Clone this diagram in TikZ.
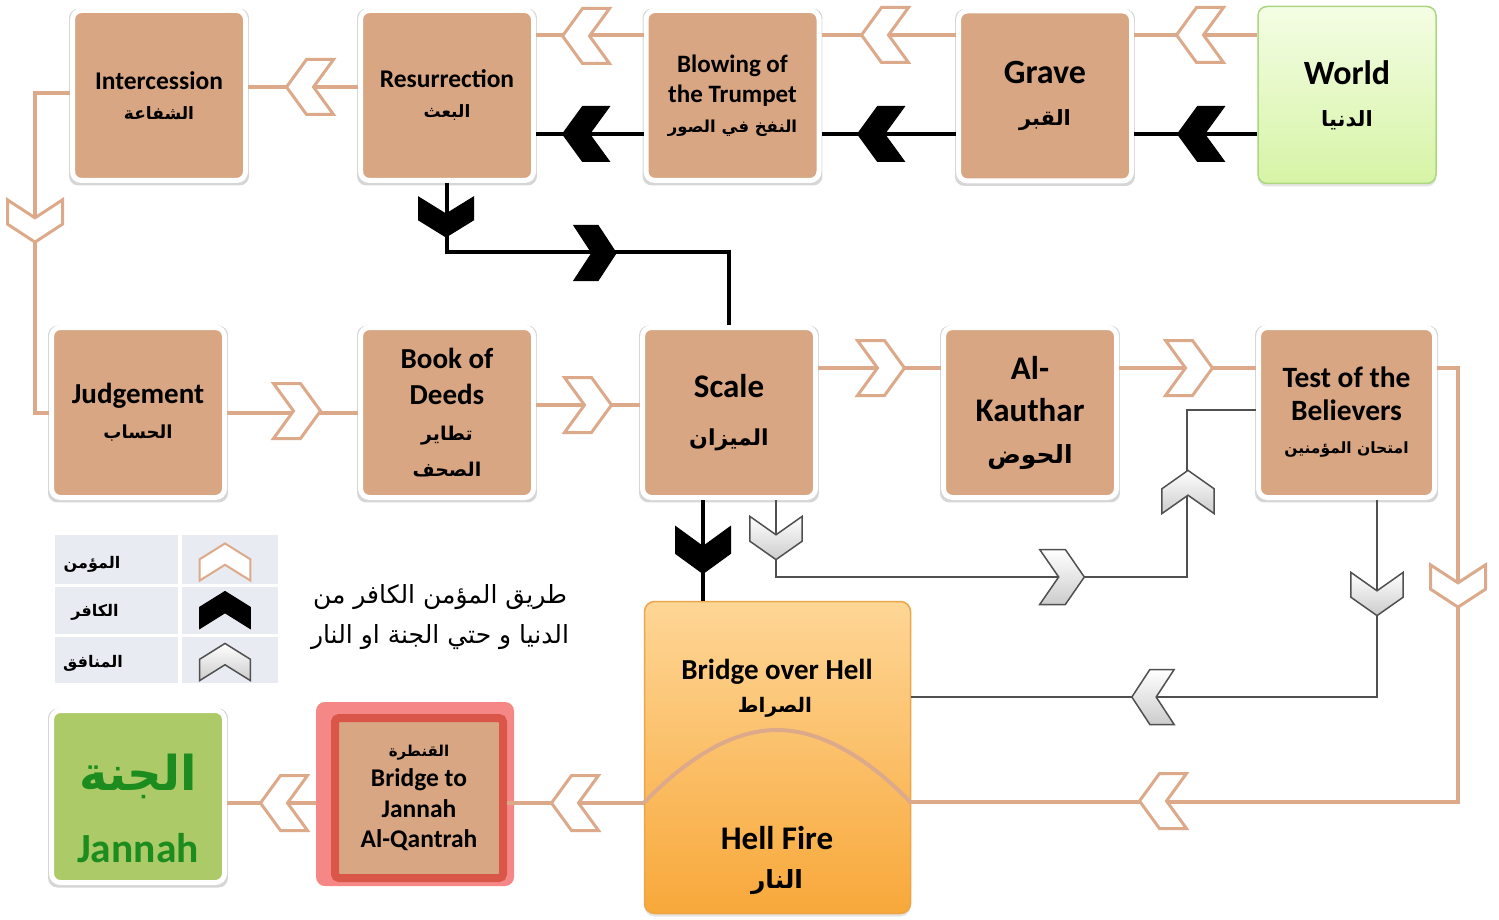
\documentclass[tikz,border=0pt]{standalone}
\usepackage{fontspec}
\setmainfont{Carlito}
\newfontfamily\arabicfont[Script=Arabic]{DejaVu Sans}
\TeXXeTstate=1
\usetikzlibrary{shadows,calc}
\newcommand\ar[2][20]{{\arabicfont\fontsize{#1}{#1}\selectfont\beginR #2\endR}}
\newcommand\arb[2][20]{{\arabicfont\bfseries\fontsize{#1}{#1}\selectfont\beginR #2\endR}}
\definecolor{tanfill}{RGB}{216,166,130}
\definecolor{tanline}{RGB}{220,170,138}
\definecolor{jgreen}{RGB}{172,202,104}
\definecolor{jtext}{RGB}{28,140,30}
\definecolor{wtop}{RGB}{244,253,228}
\definecolor{wbot}{RGB}{214,244,166}
\definecolor{wborder}{RGB}{172,214,130}
\definecolor{htop}{RGB}{254,214,150}
\definecolor{hbot}{RGB}{248,168,58}
\definecolor{hborder}{RGB}{235,166,74}
\definecolor{legfill}{RGB}{232,236,242}
\definecolor{qglow}{RGB}{245,136,134}
\definecolor{qred}{RGB}{218,86,72}
\definecolor{mungray}{RGB}{80,80,80}
\tikzset{
  glow/.style={general shadow={shadow scale=1.04, shadow yshift=-1.5pt, fill=black, opacity=0.16}},
  softglow/.style={general shadow={shadow scale=1, shadow yshift=-3pt, fill=black, opacity=0.10}},
  plainbox/.style={rectangle, rounded corners=9pt, inner sep=0pt, align=center},
  box/.style={plainbox, fill=tanfill, draw=white, line width=5pt,
    minimum width=173pt, minimum height=170pt,
    font=\bfseries\fontsize{25.5}{30}\selectfont, glow},
  tanl/.style={draw=tanline, line width=4pt},
  kafl/.style={draw=black, line width=4pt},
  munl/.style={draw=mungray, line width=2pt},
  belc/.style={draw=tanline, fill=white, line width=3pt},
  kafc/.style={draw=black, fill=black, line width=1pt},
  munc/.style={draw=mungray, line width=1.5pt, top color=white, bottom color=gray!40},
  chev/.pic={\path[pic actions] (-23.5,-27.5) -- (3.5,-27.5) -- (23.5,0) -- (3.5,27.5) -- (-23.5,27.5) -- (-3.5,0) -- cycle;},
  txt/.style={inner sep=0pt, font=\bfseries\fontsize{29}{29}\selectfont}
}
\begin{document}
\begin{tikzpicture}[x=1pt,y=-1pt]
\useasboundingbox (0,0) rectangle (1499,920);
\fill[white] (0,0) rectangle (1499,920);

% boxes top row
\node[box] (inter) at (159,95.5) {Intercession\\\ar[17]{الشفاعة}};
\node[box] (resur) at (447,95.5) {Resurrection\\\ar[17]{البعث}};
\node[box, font=\bfseries\fontsize{25}{30}\selectfont] (blow) at (732.5,95.5) {Blowing of\\the Trumpet\\\ar[16.5]{النفخ في الصور}};
\node[box, font=\bfseries\fontsize{34}{42}\selectfont] (grave) at (1045,96) {Grave\\\ar[21]{القبر}};
\node[plainbox, draw=wborder, line width=1.5pt, top color=wtop, bottom color=wbot, minimum width=178pt, minimum height=177pt,
      font=\bfseries\fontsize{34}{42}\selectfont, softglow] (world) at (1347,95) {World\\\ar[21]{الدنيا}};

% middle row
\node[box, font=\bfseries\fontsize{29}{35}\selectfont] (judge) at (138,412.5) {Judgement\\\ar[18]{الحساب}};
\node[box, font=\bfseries\fontsize{29}{36}\selectfont] (book) at (447,412.5) {Book of\\Deeds\\\ar[19]{تطاير}\\\ar[19]{الصحف}};
\node[box, font=\bfseries\fontsize{33}{48}\selectfont] (scale) at (729,412.5) {Scale\\\ar[22]{الميزان}};
\node[box, font=\bfseries\fontsize{33}{42}\selectfont] (kauth) at (1030,412.5) {Al-\\Kauthar\\\ar[25]{الحوض}};
\node[box, font=\bfseries\fontsize{29.5}{33}\selectfont, minimum width=176pt] (test) at (1346.5,412.5) {Test of the\\Believers\\\ar[15.5]{امتحان المؤمنين}};

% hell box
\node[plainbox, rounded corners=10pt, draw=hborder, line width=1.5pt, top color=htop, bottom color=hbot,
      minimum width=266pt, minimum height=312pt, softglow] (hell) at (777.5,757.5) {};
\node[txt] (h1) at (777,672) {Bridge over Hell};
\node[inner sep=0pt] (h2) at (775,707) {\arb[20]{الصراط}};
\node[txt, font=\bfseries\fontsize{33}{33}\selectfont] (h3) at (777,838) {Hell Fire};
\node[inner sep=0pt] (h4) at (777,882) {\arb[25]{النار}};

% qantrah
\node[plainbox, fill=qglow, minimum width=198pt, minimum height=184pt] (qglow) at (415,794) {};
\node[plainbox, rounded corners=4pt, fill=tanfill, draw=qred, line width=8pt, minimum width=168pt, minimum height=160pt,
      font=\bfseries\fontsize{25.5}{30.5}\selectfont] (qant) at (419,798) {\ar[15]{القنطرة}\\Bridge to\\Jannah\\Al-Qantrah};

% jannah
\node[box, fill=jgreen, minimum height=172pt] (jannah) at (138,796.5) {};
\node[inner sep=0pt, text=jtext] (jar) at (138,776) {\arb[48]{الجنة}};
\node[inner sep=0pt, text=jtext, font=\bfseries\fontsize{41.5}{41.5}\selectfont] (jen) at (138,848) {Jannah};

% legend
\fill[legfill] (55,535) rectangle (178,584);
\fill[legfill] (182,535) rectangle (278,584);
\fill[legfill] (55,587) rectangle (178,634);
\fill[legfill] (182,587) rectangle (278,634);
\fill[legfill] (55,637) rectangle (178,683);
\fill[legfill] (182,637) rectangle (278,683);
\node[inner sep=0pt] (lg1) at (92,564) {\arb[16]{المؤمن}};
\node[inner sep=0pt] (lg2) at (95,612) {\arb[16]{الكافر}};
\node[inner sep=0pt] (lg3) at (93,663) {\arb[16]{المنافق}};
\pic[belc, line width=2pt, rotate=90, xscale=0.79, yscale=0.92] at (225,562) {chev};
\pic[kafc, rotate=90, xscale=0.79, yscale=0.92] at (225,610) {chev};
\pic[munc, rotate=90, xscale=0.79, yscale=0.92] at (225,662) {chev};
\node[inner sep=0pt, align=center, font=\fontsize{25}{40}\selectfont] (title) at (440,617)
  {\ar[25]{طريق المؤمن الكافر من}\\\ar[25]{الدنيا و حتي الجنة او النار}};

% top row connectors (believer)
\draw[tanl] (inter.east |- 0,87) -- (resur.west |- 0,87);
\pic[belc, rotate=180] at (310,87) {chev};
\draw[tanl] (resur.east |- 0,35) -- (blow.west |- 0,35);
\pic[belc, rotate=180] at (586,36) {chev};
\draw[tanl] (blow.east |- 0,35) -- (grave.west |- 0,35);
\pic[belc, rotate=180] at (885,35) {chev};
\draw[tanl] (grave.east |- 0,35) -- (world.west |- 0,35);
\pic[belc, rotate=180] at (1200,35) {chev};

% top row connectors (disbeliever)
\draw[kafl] (world.west |- 0,134) -- (grave.east |- 0,134);
\pic[kafc, rotate=180] at (1201,134) {chev};
\draw[kafl] (grave.west |- 0,134) -- (blow.east |- 0,134);
\pic[kafc, rotate=180] at (881,134) {chev};
\draw[kafl] (blow.west |- 0,134) -- (resur.east |- 0,134);
\pic[kafc, rotate=180] at (586,134) {chev};
\draw[kafl] (resur.south) -- ++(0,69) -| (scale.north);
\pic[kafc, rotate=-90, xscale=0.85] at (446,217) {chev};
\pic[kafc, xscale=0.9] at (595,253) {chev};

% intercession to judgement
\coordinate (ic) at (35,93);
\draw[tanl] (inter.west |- 0,93) -- (ic) |- (judge.west);
\pic[belc, rotate=-90, xscale=0.9] at (35,221) {chev};

% middle row believer
\draw[tanl] (judge.east) -- (book.west);
\pic[belc] at (297,411) {chev};
\draw[tanl] (book.east |- 0,405) -- (scale.west |- 0,405);
\pic[belc] at (588,405) {chev};
\draw[tanl] (scale.east |- 0,368) -- (kauth.west |- 0,368);
\pic[belc] at (881,368) {chev};
\draw[tanl] (kauth.east |- 0,368) -- (test.west |- 0,368);
\pic[belc] at (1189,368) {chev};
\coordinate (rc) at (1458,802);
\draw[tanl] (test.east |- 0,368) -| (rc) -- (hell.east |- 0,802);
\pic[belc, rotate=-90, xscale=0.9] at (1458,586) {chev};
\pic[belc, rotate=180] at (1163,801) {chev};
\draw[tanl] (hell.west |- 0,803) .. controls (690,755) and (735,730) .. (777,730)
            .. controls (819,730) and (865,755) .. (hell.east |- 0,803);
\draw[tanl] (hell.west |- 0,803) -- (qant.east |- 0,803);
\pic[belc, rotate=180] at (575,803) {chev};
\draw[tanl] (qglow.west |- 0,803) -- (jannah.east |- 0,803);
\pic[belc, rotate=180] at (284,803) {chev};

% disbeliever scale to hell
\draw[kafl] (scale.south -| 703,0) -- (hell.north -| 703,0);
\pic[kafc, rotate=-90] at (703,550) {chev};

% hypocrite path
\coordinate (gc) at (1187,577);
\draw[munl] (scale.south -| 776,0) |- (gc) |- (test.west |- 0,410);
\pic[munc, rotate=-90, xscale=0.92, yscale=0.95] at (776,538) {chev};
\pic[munc, xscale=0.95] at (1062,577) {chev};
\pic[munc, rotate=90, xscale=0.92, yscale=0.95] at (1188,492) {chev};
\draw[munl] (test.south -| 1377,0) |- (hell.east |- 0,697);
\pic[munc, rotate=-90, xscale=0.92, yscale=0.95] at (1377,594) {chev};
\pic[munc, rotate=180, xscale=0.9] at (1153,697) {chev};
\end{tikzpicture}
\end{document}
